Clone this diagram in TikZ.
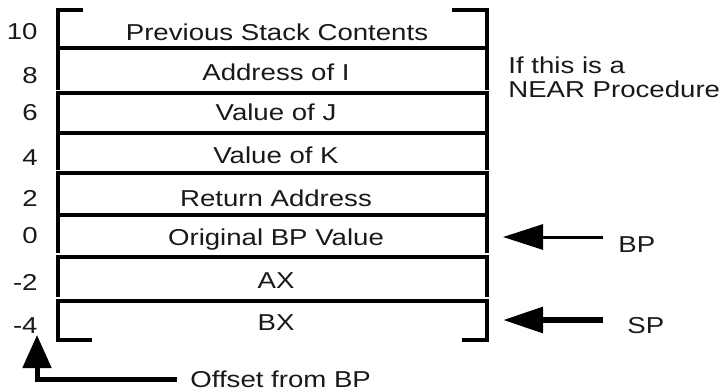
\documentclass[tikz,border=0pt]{standalone}
\usepackage{fontspec}
\setmainfont{Liberation Sans}[FakeStretch=1.2]
\usetikzlibrary{arrows.meta}
\begin{document}
\begin{tikzpicture}[x=0.5pt,y=-0.5pt,
  frame/.style={line width=1.75pt,line join=miter},
  txt/.style={inner sep=0pt,font=\fontsize{11.5}{13}\selectfont,text=black!90},
  celltext/.style={txt,anchor=base},
  numtext/.style={txt,anchor=base east},
  sidetext/.style={txt,anchor=base west},
  bigtip/.style={-{Triangle[length=20pt,width=12.5pt]}}]
\useasboundingbox (0,0) rectangle (727,391);
% stack frame groups
\draw[frame] (83,10) -- (58,10) -- (58,90);
\draw[frame] (452,10) -- (487,10) -- (487,90);
\draw[frame] (58,48) -- (487,48);
\draw[frame] (58,170) -- (58,93) -- (487,93) -- (487,170);
\draw[frame] (58,133) -- (487,133);
\draw[frame] (58,253) -- (58,173) -- (487,173) -- (487,253);
\draw[frame] (58,215) -- (487,215);
\draw[frame] (58,297) -- (58,257) -- (487,257) -- (487,297);
\draw[frame] (92,340) -- (58,340) -- (58,301) -- (487,301) -- (487,340) -- (462,340);
% cell texts
\node[celltext] (prev) at (277,40) {Previous Stack Contents};
\node[celltext] (addri) at (276,80) {Address of I};
\node[celltext] (valj) at (276,120) {Value of J};
\node[celltext] (valk) at (276,163) {Value of K};
\node[celltext] (ret) at (276,206) {Return Address};
\node[celltext] (obp) at (276,245) {Original BP Value};
\node[celltext] (ax) at (276,288) {AX};
\node[celltext] (bx) at (276,330) {BX};
% offsets
\node[numtext] (n10) at (38,39.5) {10};
\node[numtext] (n8) at (38,83) {8};
\node[numtext] (n6) at (38,120) {6};
\node[numtext] (n4) at (38,165) {4};
\node[numtext] (n2) at (38,206) {2};
\node[numtext] (n0) at (38,243) {0};
\node[numtext] (nm2) at (38,290) {-2};
\node[numtext] (nm4) at (38,333) {-4};
% side notes
\node[sidetext] (near1) at (508,73) {If this is a};
\node[sidetext] (near2) at (508,97) {NEAR Procedure};
\node[sidetext] (bp) at (618,252) {BP};
\node[sidetext] (sp) at (627,333) {SP};
\node[sidetext] (offs) at (190,387) {Offset from BP};
% arrows
\coordinate (bpstart) at (603,237);
\coordinate (bptip) at (503,237);
\coordinate (spstart) at (603,320);
\coordinate (sptip) at (503,320);
\coordinate (offstart) at (177,379);
\coordinate (offtip) at (37,335);
\draw[bigtip,line width=1.5pt] (bpstart) -- (bptip);
\draw[bigtip,line width=3pt] (spstart) -- (sptip);
\draw[-{Triangle[length=16.5pt,width=14pt]},line width=2.5pt,line join=miter] (offstart) -| (offtip);
\end{tikzpicture}
\end{document}
